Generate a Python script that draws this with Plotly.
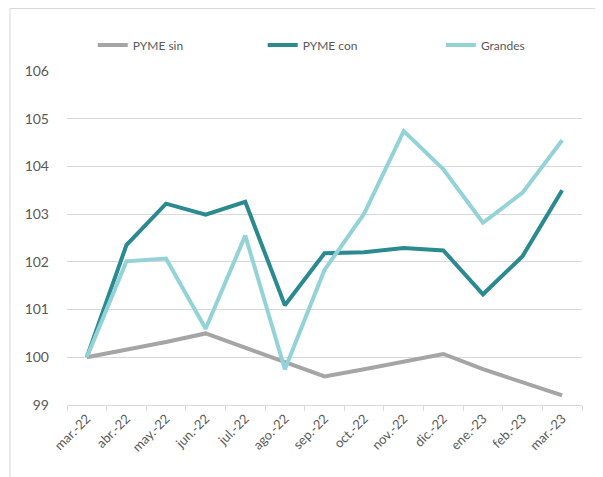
import plotly.graph_objects as go

categories = ["mar.-22", "abr.-22", "may.-22", "jun.-22", "jul.-22", "ago.-22", "sep.-22",
              "oct.-22", "nov.-22", "dic.-22", "ene.-23", "feb.-23", "mar.-23"]
pyme_sin = [100.0, 100.15, 100.32, 100.5, 100.2, 99.9, 99.6, 99.75, 99.9, 100.07, 99.75, 99.47, 99.2]
pyme_con = [100.0, 102.35, 103.22, 102.99, 103.26, 101.09, 102.18, 102.2, 102.29, 102.24, 101.32, 102.12, 103.5]
grandes = [100.0, 102.01, 102.07, 100.6, 102.55, 99.75, 101.83, 103.01, 104.74, 103.94, 102.82, 103.45, 104.55]
y_ticks = [99, 100, 101, 102, 103, 104, 105, 106]

FONT = "Lato, Liberation Sans, sans-serif"

series = [("PYME sin", pyme_sin, "#a5a5a5", "legend", 0.05),
          ("PYME con", pyme_con, "#2b8a90", "legend2", 0.38),
          ("Grandes", grandes, "#93d3d8", "legend3", 0.726)]

fig = go.Figure()
legends = {}
for name, vals, color, lg, lx in series:
    fig.add_trace(go.Scatter(x=categories, y=vals, name=name, mode="lines",
                             line=dict(color=color, width=4), legend=lg))
    legends[lg] = dict(orientation="h", x=lx, xanchor="left", y=1.078, yanchor="middle",
                       font=dict(size=12, color="#595959"), bgcolor="rgba(0,0,0,0)")

fig.update_layout(
    width=595, height=469,
    margin=dict(l=59, r=21, t=63, b=72, autoexpand=False),
    paper_bgcolor="white", plot_bgcolor="white",
    font=dict(family=FONT, size=12, color="#595959"),
    showlegend=True,
    **legends,
    xaxis=dict(type="category", range=[-0.5, 12.5], tickangle=-45, showgrid=False,
               showline=True, linecolor="#d9d9d9", linewidth=1,
               ticks="outside", tickson="boundaries", ticklen=5, tickcolor="#d9d9d9",
               tickfont=dict(size=13, color="#595959")),
    yaxis=dict(range=[99, 106], tickvals=y_ticks, showgrid=True, gridcolor="#d9d9d9",
               gridwidth=1, zeroline=False, showline=False, ticks="",
               ticklabelstandoff=17,
               tickfont=dict(size=14, color="#595959")),
    shapes=[dict(type="rect", xref="paper", yref="paper",
                 x0=-0.1107, x1=1.035, y0=-0.25, y1=1.187,
                 line=dict(color="#d9d9d9", width=1), layer="below")],
)

fig.write_html("out.html")
